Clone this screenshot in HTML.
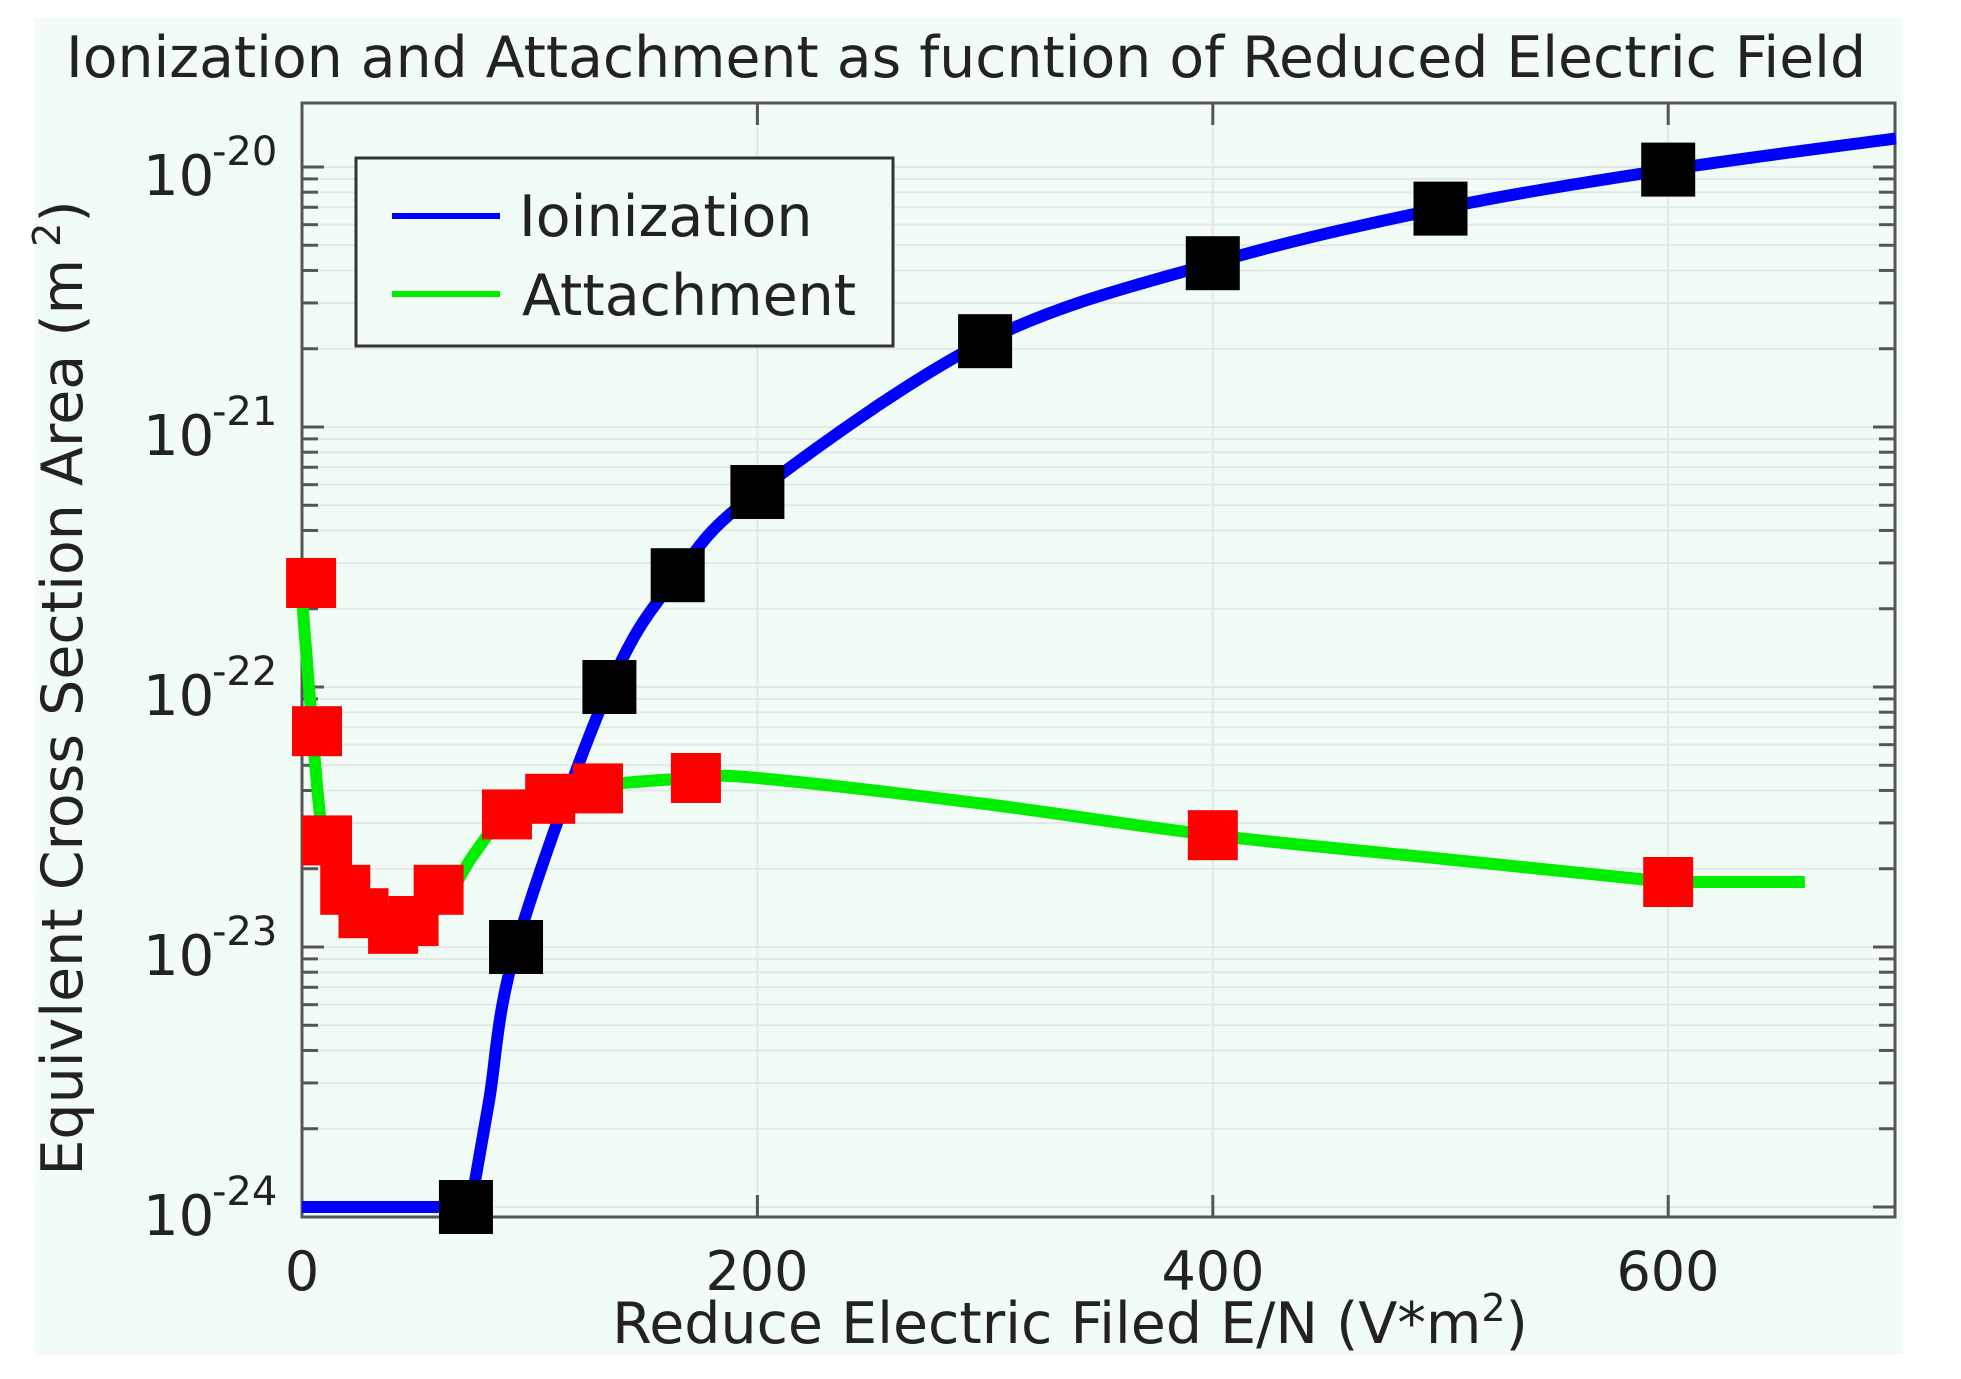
<!DOCTYPE html>
<html><head><meta charset="utf-8">
<style>
html,body{margin:0;padding:0;background:#fff;}
svg{display:block;font-family:"DejaVu Sans","Liberation Sans",sans-serif;}
</style></head>
<body>
<svg id="s" width="1961" height="1379" viewBox="0 0 1961 1379" xmlns="http://www.w3.org/2000/svg">
<rect x="35" y="18" width="1868" height="1337" fill="#f2fcf7"/>
<g id="grid"></g>
<g id="ticks" stroke="#555" stroke-width="3"></g>
<rect x="302" y="103" width="1593" height="1114" fill="none" stroke="#555" stroke-width="3"/>
<g id="series"></g>
<text x="966" y="77" font-size="57" text-anchor="middle" fill="#222" textLength="1800" lengthAdjust="spacingAndGlyphs">Ionization and Attachment as fucntion of Reduced Electric Field</text>
<g font-size="54" fill="#222" text-anchor="middle">
<text x="302" y="1290">0</text>
<text x="757" y="1290">200</text>
<text x="1213" y="1290">400</text>
<text x="1668" y="1290">600</text>
</g>
<text x="1070" y="1343" font-size="57" text-anchor="middle" fill="#222">Reduce Electric Filed E/N (V*m<tspan font-size="38" dy="-22">2</tspan><tspan dy="22">)</tspan></text>
<text transform="translate(82,688) rotate(-90)" font-size="57" text-anchor="middle" fill="#222">Equivlent Cross Section Area (m<tspan font-size="38" dy="-22"> 2</tspan><tspan dy="22">)</tspan></text>
<g id="ylab" font-size="56" fill="#222"></g>
<rect x="356" y="158" width="537" height="188" fill="#f2fcf7" stroke="#333" stroke-width="3"/>
<line x1="392" y1="216" x2="500" y2="216" stroke="#0000ff" stroke-width="6"/>
<line x1="392" y1="294" x2="500" y2="294" stroke="#00ee00" stroke-width="6"/>
<text x="519" y="236" font-size="57" fill="#222">Ioinization</text>
<text x="522" y="315" font-size="57" fill="#222">Attachment</text>
</svg>
<script>
var NS="http://www.w3.org/2000/svg";
function X(v){return 302+2.277*v;}
function Y(l){return 167+(-20-l)*260;}
function el(p,t,a){var e=document.createElementNS(NS,t);for(var k in a)e.setAttribute(k,a[k]);document.getElementById(p).appendChild(e);return e;}
for(var d=-24;d<=-20;d++){for(var m=1;m<=9;m++){var l=d+Math.log10(m);var y=Y(l);if(y<104||y>1216)continue;
el('grid','line',{x1:302,x2:1895,y1:y,y2:y,stroke:'#e2e8e5','stroke-width':2});
var L=(m==1)?22:16;
el('ticks','line',{x1:302,x2:302+L,y1:y,y2:y});el('ticks','line',{x1:1895,x2:1895-L,y1:y,y2:y});}}
[200,400,600].forEach(function(v){el('grid','line',{x1:X(v),x2:X(v),y1:103,y2:1217,stroke:'#e2e8e5','stroke-width':2});
el('ticks','line',{x1:X(v),x2:X(v),y1:1217,y2:1195});el('ticks','line',{x1:X(v),x2:X(v),y1:103,y2:125});});
[-20,-21,-22,-23,-24].forEach(function(d){var t=el('ylab','text',{x:143,y:Y(d)+28});t.textContent='10';
var s=el('ylab','text',{x:212,y:Y(d)-2,'font-size':40});s.textContent=String(d);});
function cr(pts){var s='M'+X(pts[0][0])+','+Y(pts[0][1]);
for(var i=0;i<pts.length-1;i++){var p0=pts[Math.max(0,i-1)],p1=pts[i],p2=pts[i+1],p3=pts[Math.min(pts.length-1,i+2)];
var a=[X(p0[0]),Y(p0[1])],b=[X(p1[0]),Y(p1[1])],c=[X(p2[0]),Y(p2[1])],e=[X(p3[0]),Y(p3[1])];
s+=' C'+(b[0]+(c[0]-a[0])/6)+','+(b[1]+(c[1]-a[1])/6)+' '+(c[0]-(e[0]-b[0])/6)+','+(c[1]-(e[1]-b[1])/6)+' '+c[0]+','+c[1];}return s;}
el('series','path',{d:cr([[0,-21.66],[4,-22.1],[8,-22.5],[12,-22.65],[20,-22.8],[40,-22.93],[60,-22.85],[75,-22.65],[90,-22.49],[110,-22.43],[130,-22.38],[173,-22.35],[200,-22.35],[300,-22.45],[400,-22.57],[500,-22.66],[600,-22.75]])+' L'+X(660)+','+Y(-22.75),fill:'none',stroke:'#00ee00','stroke-width':12});
el('series','path',{d:'M'+X(0)+','+Y(-24)+' L'+X(74)+','+Y(-24)+' '+cr([[74,-24],[82,-23.6],[94,-23],[135,-22],[165,-21.57],[200,-21.25],[300,-20.67],[400,-20.37],[500,-20.16],[600,-20.01],[700,-19.89]]).replace(/^M[^ ]+/,''),fill:'none',stroke:'#0000ff','stroke-width':12});
[[4,-21.6],[6.6,-22.17],[11,-22.59],[19,-22.78],[27,-22.87],[40,-22.93],[49,-22.9],[60,-22.78],[90,-22.49],[109,-22.43],[130,-22.39],[173,-22.35],[400,-22.57],[600,-22.75]].forEach(function(p){
el('series','rect',{x:X(p[0])-25,y:Y(p[1])-25,width:50,height:50,fill:'#ff0000'});});
[[72,-24],[94,-23],[135,-22],[165,-21.57],[200,-21.25],[300,-20.67],[400,-20.37],[500,-20.16],[600,-20.01]].forEach(function(p){
el('series','rect',{x:X(p[0])-27,y:Y(p[1])-27,width:54,height:54,fill:'#000'});});
</script>
</body></html>
